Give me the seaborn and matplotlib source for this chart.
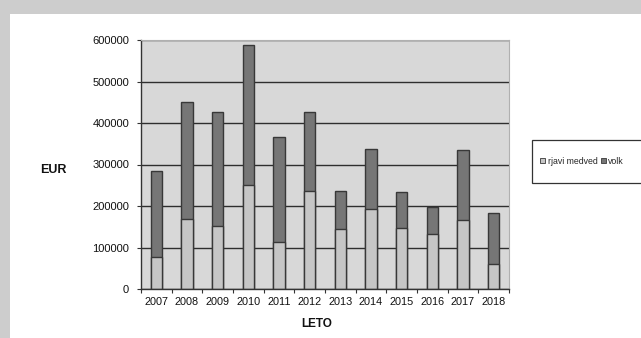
import numpy as np
import pandas as pd
import matplotlib
matplotlib.use("Agg")
import matplotlib.pyplot as plt
from matplotlib.patches import Rectangle, Patch
from matplotlib.ticker import FixedLocator
import seaborn as sns

# Škoda po letih (EUR)
leta = ["2007", "2008", "2009", "2010", "2011", "2012",
        "2013", "2014", "2015", "2016", "2017", "2018"]
rjavi_medved = [77000, 168000, 152000, 251000, 113000, 235000,
                144000, 193000, 148000, 132000, 167000, 61000]
volk = [208000, 283000, 275000, 337000, 254000, 192000,
        93000, 145000, 85000, 65000, 167000, 123000]

sns.set_theme(style="white")
plt.rcParams["font.family"] = ["Liberation Sans", "DejaVu Sans"]

df = pd.DataFrame({"leto": leta, "rjavi medved": rjavi_medved, "volk": volk})
df["skupaj"] = df["rjavi medved"] + df["volk"]

c_medved = "#c6c6c6"
c_volk = "#767676"
c_edge = "#383838"

W, H = 641, 338
fig = plt.figure(figsize=(W / 100, H / 100), dpi=100, facecolor="#cdcdcd")
# white sheet of the chart area, kept behind the axes
fig.patches.append(Rectangle((10 / W, 0), 1, (H - 14) / H, transform=fig.transFigure,
                             facecolor="white", edgecolor="none", zorder=-5))

ax = fig.add_axes([141 / W, 49 / H, 368 / W, 249 / H])
ax.set_facecolor("#d8d8d8")

# stacked bars: full height in the wolf colour, bear share drawn over it
sns.barplot(data=df, x="leto", y="skupaj", color=c_volk, saturation=1, width=0.38,
            edgecolor=c_edge, linewidth=1.0, ax=ax)
sns.barplot(data=df, x="leto", y="rjavi medved", color=c_medved, saturation=1, width=0.38,
            edgecolor=c_edge, linewidth=1.0, ax=ax)

ax.set_ylim(0, 600000)
ax.set_xlim(-0.5, len(leta) - 0.5)
ax.set_yticks(np.arange(0, 600001, 100000))
ax.yaxis.grid(True, color="#2e2e2e", linewidth=1.0)
ax.set_axisbelow(True)

ax.set_xlabel("")
ax.set_ylabel("")
ax.tick_params(axis="y", labelsize=8, length=3, width=0.8, color="#333333",
               left=True, pad=5.5, labelcolor="#111111")
ax.tick_params(axis="x", which="major", labelsize=7.8, length=0, pad=6, labelcolor="#111111")
ax.xaxis.set_minor_locator(FixedLocator(np.arange(-0.5, len(leta), 1.0)))
ax.tick_params(axis="x", which="minor", length=3, width=0.8, color="#333333", bottom=True)

for side in ("left", "bottom"):
    ax.spines[side].set_color("#333333")
    ax.spines[side].set_linewidth(1.0)
for side in ("top", "right"):
    ax.spines[side].set_color("#b0b0b0")
    ax.spines[side].set_linewidth(0.8)

fig.text(53 / W, 1 - 170 / H, "EUR", ha="center", va="center",
         fontsize=9, fontweight="bold", color="#111111")
fig.text(317 / W, 1 - 324 / H, "LETO", ha="center", va="center",
         fontsize=8.5, fontweight="bold", color="#111111")

# legend box running off the right edge
fig.patches.append(Rectangle((532 / W, 1 - 183 / H), 120 / W, 43 / H, transform=fig.transFigure,
                             facecolor="white", edgecolor="#333333", linewidth=0.9, zorder=3))
handles = [Patch(facecolor=c_medved, edgecolor=c_edge, linewidth=0.6),
           Patch(facecolor=c_volk, edgecolor=c_edge, linewidth=0.6)]
leg = fig.legend(handles, ["rjavi medved", "volk"], loc="center left",
                 bbox_to_anchor=(534 / W, 1 - 161 / H), ncol=2, frameon=False,
                 fontsize=6.3, handlelength=0.6, handleheight=0.6, handletextpad=0.25,
                 columnspacing=0.4, borderpad=0.2)
leg.set_zorder(4)

fig.savefig("out.png", dpi=100, facecolor=fig.get_facecolor())
